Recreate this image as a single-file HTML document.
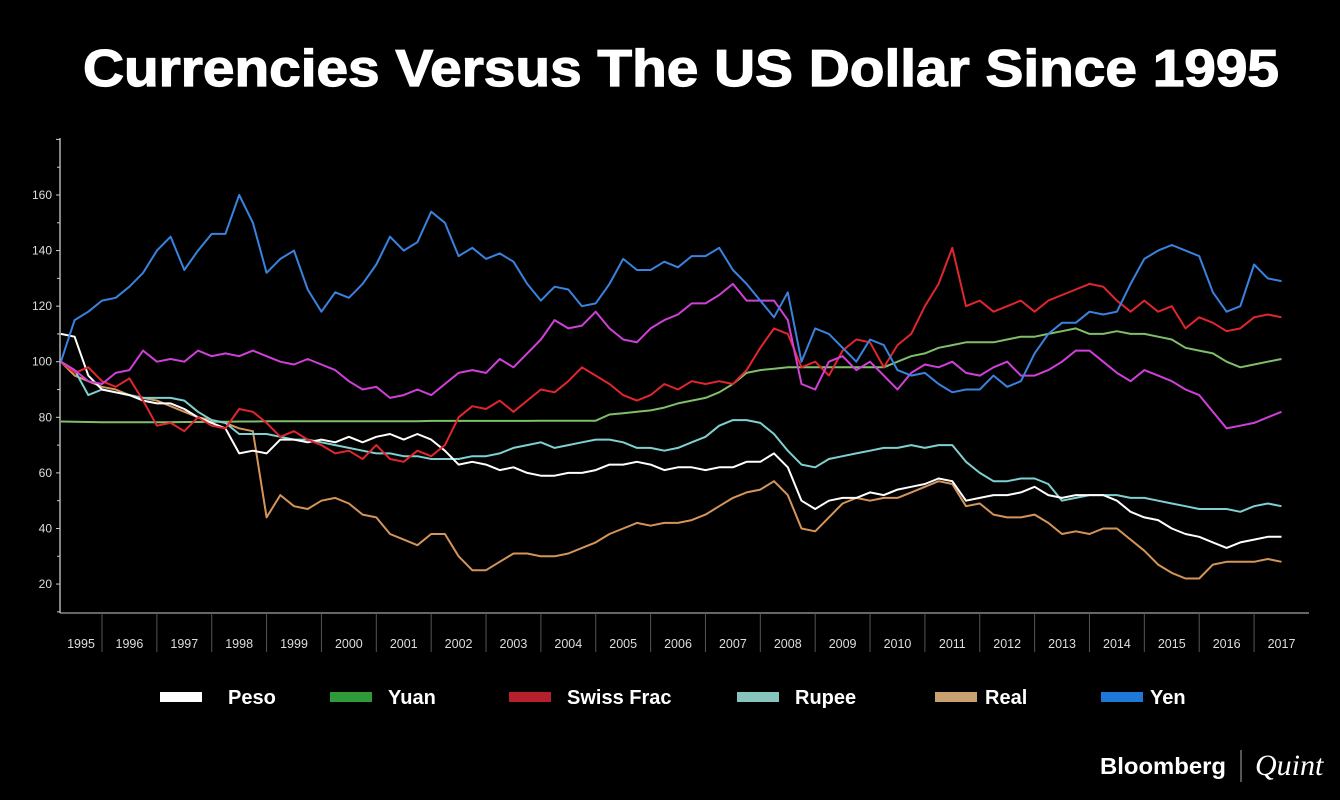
<!DOCTYPE html>
<html><head><meta charset="utf-8"><style>
html,body{margin:0;padding:0;background:#000;}
svg{display:block;}
</style></head><body>
<svg id="chart" width="1340" height="800" viewBox="0 0 1340 800" xmlns="http://www.w3.org/2000/svg" font-family="Liberation Sans, sans-serif">
<rect width="1340" height="800" fill="#000"/>
<text x="681" y="86" fill="#fff" stroke="#fff" stroke-width="1.2" font-size="52" font-weight="bold" text-anchor="middle" textLength="1196" lengthAdjust="spacingAndGlyphs">Currencies Versus The US Dollar Since 1995</text>
<g id="axes"></g>
<g id="series"></g>
<g id="legend"></g>
<text x="1100" y="774" fill="#fff" font-size="23" font-weight="bold" textLength="126" lengthAdjust="spacingAndGlyphs">Bloomberg</text>
<line x1="1241" y1="750" x2="1241" y2="782" stroke="#aaa" stroke-width="1"/>
<text x="1255" y="775" fill="#fff" font-size="30" font-style="italic" font-family="Liberation Serif, serif">Quint</text>
</svg>
<script>
const years = ["1995","1996","1997","1998","1999","2000","2001","2002","2003","2004","2005","2006","2007","2008","2009","2010","2011","2012","2013","2014","2015","2016","2017"];
const yTicks = [20,40,60,80,100,120,140,160];
const startYear = 1995.25, step = 0.25;
const yen = [100,115,118, 122,123,127,132, 140,145,133,140, 146,146,160,150, 132,137,140,126, 118,125,123,128, 135,145,140,143, 154,150,138,141, 137,139,136,128, 122,127,126,120, 121,128,137,133, 133,136,134,138, 138,141,133,128, 122,116,125,100, 112,110,105,100, 108,106,97,95, 96,92,89,90, 90,95,91,93, 103,110,114,114, 118,117,118,128, 137,140,142,140, 138,125,118,120, 135,130,129];
const other = [100,97,93, 92,96,97,104, 100,101,100,104, 102,103,102,104, 102,100,99,101, 99,97,93,90, 91,87,88,90, 88,92,96,97, 96,101,98,103, 108,115,112,113, 118,112,108,107, 112,115,117,121, 121,124,128,122, 122,122,115,92, 90,100,102,97, 100,95,90,96, 99,98,100,96, 95,98,100,95, 95,97,100,104, 104,100,96,93, 97,95,93,90, 88,82,76,77, 78,80,82];
const swiss = [100,96,98, 93,91,94,86, 77,78,75,80, 77,76,83,82, 78,73,75,72, 70,67,68,65, 70,65,64,68, 66,70,80,84, 83,86,82,86, 90,89,93,98, 95,92,88,86, 88,92,90,93, 92,93,92,97, 105,112,110,98, 100,95,104,108, 107,98,106,110, 120,128,141,120, 122,118,120,122, 118,122,124,126, 128,127,122,118, 122,118,120,112, 116,114,111,112, 116,117,116];
const yuan = [78.5,78.4,78.3, 78.2,78.2,78.2,78.2, 78.2,78.2,78.3,78.3, 78.4,78.4,78.5,78.5, 78.6,78.6,78.6,78.6, 78.6,78.6,78.6,78.6, 78.6,78.6,78.6,78.6, 78.7,78.7,78.7,78.7, 78.7,78.7,78.7,78.7, 78.8,78.8,78.8,78.8, 78.8,81,81.5,82, 82.5,83.5,85,86, 87,89,92,96, 97,97.5,98,98, 98,98,98,98, 98,98,100,102, 103,105,106,107, 107,107,108,109, 109,110,111,112, 110,110,111,110, 110,109,108,105, 104,103,100,98, 99,100,101];
const peso = [110,109,95, 90,89,88,86, 85,85,83,80, 78,76,67,68, 67,72,72,71, 72,71,73,71, 73,74,72,74, 72,68,63,64, 63,61,62,60, 59,59,60,60, 61,63,63,64, 63,61,62,62, 61,62,62,64, 64,67,62,50, 47,50,51,51, 53,52,54,55, 56,58,57,50, 51,52,52,53, 55,52,51,52, 52,52,50,46, 44,43,40,38, 37,35,33,35, 36,37,37];
const rupee = [100,97,88, 90,89,88,87, 87,87,86,82, 79,78,74,74, 74,73,72,72, 71,70,69,68, 67,67,66,66, 65,65,65,66, 66,67,69,70, 71,69,70,71, 72,72,71,69, 69,68,69,71, 73,77,79,79, 78,74,68,63, 62,65,66,67, 68,69,69,70, 69,70,70,64, 60,57,57,58, 58,56,50,51, 52,52,52,51, 51,50,49,48, 47,47,47,46, 48,49,48];
const real = [100,95,93, 91,90,88,87, 86,84,82,80, 79,78,76,75, 44,52,48,47, 50,51,49,45, 44,38,36,34, 38,38,30,25, 25,28,31,31, 30,30,31,33, 35,38,40,42, 41,42,42,43, 45,48,51,53, 54,57,52,40, 39,44,49,51, 50,51,51,53, 55,57,56,48, 49,45,44,44, 45,42,38,39, 38,40,40,36, 32,27,24,22, 22,27,28,28, 28,29,28];

const NS="http://www.w3.org/2000/svg";
const xOf = t => 102 + (t - 1996) * 54.86;
const yOf = v => 195 + (160 - v) * 2.779;
function mk(tag, attrs, parent){const e=document.createElementNS(NS,tag);for(const k in attrs)e.setAttribute(k,attrs[k]);parent.appendChild(e);return e;}
const axes=document.getElementById('axes');
const axisY = mk('line',{x1:60,y1:138,x2:60,y2:613,stroke:'#ddd','stroke-width':1.2},axes);


const axisX = mk('line',{x1:60,y1:613,x2:1309,y2:613,stroke:'#ccc','stroke-width':1},axes);


for(let v=10; v<=180; v+=10){
  const tk=mk('line',{x1:v%20===0?56:57,y1:yOf(v),x2:60,y2:yOf(v),stroke:'#ccc','stroke-width':1},axes);
  
  
}
yTicks.forEach(v=>{
  const t=mk('text',{x:52,y:yOf(v)+4,fill:'#ddd','font-size':12,'text-anchor':'end'},axes);
  t.textContent=v;
  
  
});
years.forEach((y,i)=>{
  const yr=+y;
  const x0 = i===0?60:xOf(yr), x1 = i===years.length-1?1309:xOf(yr+1);
  if(i>0){
    const s=mk('line',{x1:x0,y1:613,x2:x0,y2:652,stroke:'#555','stroke-width':1},axes);
    
    
  }
  const t=mk('text',{x:(x0+x1)/2,y:648,fill:'#ddd','font-size':12.5,'text-anchor':'middle'},axes);
  t.textContent=y;
  
  
});
const sg=document.getElementById('series');
const series=[
  ['yuan-line',yuan,'#7fbf6a'],
  ['real-line',real,'#d4955a'],
  ['rupee-line',rupee,'#7fd0d0'],
  ['peso-line',peso,'#ffffff'],
  ['swiss-franc-line',swiss,'#e0262e'],
  ['unlabeled-magenta-line',other,'#d040d8'],
  ['yen-line',yen,'#3a82e0']
];
series.forEach(([name,arr,col])=>{
  const d=arr.map((v,i)=>(i?'L':'M')+xOf(startYear+i*step).toFixed(1)+' '+yOf(v).toFixed(1)).join(' ');
  const p=mk('path',{d:d,fill:'none',stroke:col,'stroke-width':2,'stroke-linejoin':'round'},sg);
  
  
});
const lg=document.getElementById('legend');
const legendItems=[['Peso','#ffffff',160,228],['Yuan','#2f9a3a',330,388],['Swiss Frac','#b5202c',509,567],['Rupee','#86c4bd',737,795],['Real','#c9a070',935,985],['Yen','#1e78d8',1101,1150]];
legendItems.forEach(([lab,col,sx,tx])=>{
  const r=mk('rect',{x:sx,y:692,width:42,height:10,fill:col},lg);
  
  
  const t=mk('text',{x:tx,y:704,fill:'#fff','font-size':20,'font-weight':'bold'},lg);
  t.textContent=lab;
  
  
});
</script>
</body></html>
